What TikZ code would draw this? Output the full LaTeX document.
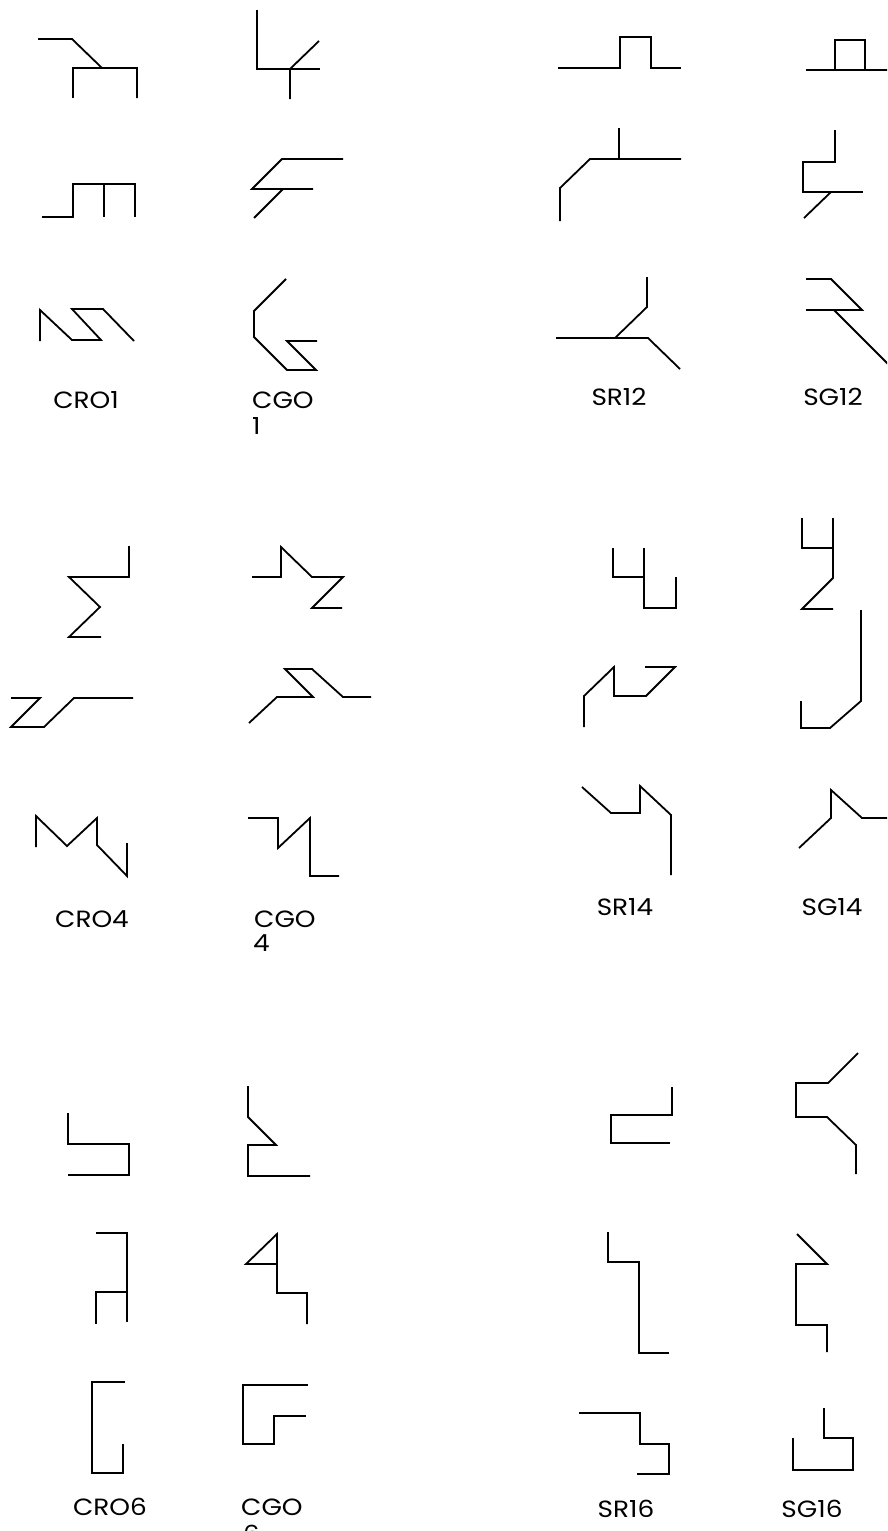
\documentclass[tikz,border=0pt]{standalone}
\usepackage{fontspec}
\setmainfont{Poppins}
\newfontfamily\lblfont{Poppins}[FakeStretch=1.12]
\begin{document}
\begin{tikzpicture}[x=1pt,y=-1pt,
  glyph/.style={line width=1.8pt, line join=miter, line cap=butt},
  lbl/.style={font=\lblfont\fontsize{23.5}{27}\selectfont, inner sep=0pt}]
\useasboundingbox (0,0) rectangle (887,1531);
\clip (0,0) rectangle (887,1531);
% ---------- block 1 ----------
\draw[glyph] (38,39)--(72,39)--(102,68)--(137,68)--(137,98);
\draw[glyph] (73,98)--(73,68)--(102,68);
\draw[glyph] (257,10)--(257,69)--(320,69);
\draw[glyph] (290,99)--(290,69)--(319,41);
\draw[glyph] (42,217)--(73,217)--(73,184)--(135,184)--(135,217);
\draw[glyph] (104,184)--(104,217);
\draw[glyph] (343,159)--(282,159)--(252,189)--(313,189);
\draw[glyph] (283,189)--(254,218);
\draw[glyph] (40,341)--(40,310)--(72,340)--(101,340)--(72,309)--(103,309)--(134,341);
\draw[glyph] (286,279)--(254,311)--(254,337)--(287,370)--(316,370)--(287,341)--(317,341);
\draw[glyph] (558,68)--(620,68)--(620,37)--(651,37)--(651,68)--(681,68);
\draw[glyph] (806,70)--(890,70);
\draw[glyph] (835,70)--(835,40)--(865,40)--(865,70);
\draw[glyph] (619,128)--(619,159);
\draw[glyph] (681,159)--(590,159)--(560,188)--(560,221);
\draw[glyph] (835,130)--(835,162)--(803,162)--(803,192)--(863,192);
\draw[glyph] (831,192)--(804,218);
\draw[glyph] (647,277)--(647,307)--(615,338);
\draw[glyph] (556,338)--(648,338)--(680,369);
\draw[glyph] (806,279)--(831,279)--(862,310)--(806,310);
\draw[glyph] (834,310)--(890,366);
\node[lbl, anchor=base] (cro1) at (86,408) {CRO1};
\node[lbl, anchor=base west] (cgo1) at (252,408) {CGO};
\node[lbl, anchor=base west] (cgo1n) at (252,434) {1};
\node[lbl, anchor=base] (sr12) at (619,405) {SR12};
\node[lbl, anchor=base] (sg12) at (833,405) {SG12};
% ---------- block 2 ----------
\draw[glyph] (129,546)--(129,577)--(69,577)--(100,607)--(69,637)--(101,637);
\draw[glyph] (252,577)--(281,577)--(281,547)--(312,577)--(343,577)--(312,608)--(342,608);
\draw[glyph] (11,698)--(40,698)--(11,727)--(44,727)--(74,698)--(133,698);
\draw[glyph] (249,723)--(277,697)--(313,697)--(285,669)--(312,669)--(343,697)--(371,697);
\draw[glyph] (36,847)--(36,816)--(67,846)--(97,818)--(97,845)--(127,876)--(127,843);
\draw[glyph] (248,818)--(278,818)--(278,848)--(310,818)--(310,876)--(339,876);
\draw[glyph] (613,548)--(613,577)--(644,577);
\draw[glyph] (644,548)--(644,608)--(676,608)--(676,577);
\draw[glyph] (802,518)--(802,548)--(833,548);
\draw[glyph] (833,518)--(833,578)--(802,609)--(833,609);
\draw[glyph] (584,727)--(584,696)--(614,667)--(614,696)--(646,696)--(675,667)--(645,667);
\draw[glyph] (861,610)--(861,701)--(830,728)--(801,728)--(801,701);
\draw[glyph] (582,787)--(611,813)--(640,813)--(640,786)--(671,815)--(671,875);
\draw[glyph] (799,848)--(831,818)--(831,790)--(862,818)--(890,818);
\node[lbl, anchor=base] (cro4) at (92,927) {CRO4};
\node[lbl, anchor=base west] (cgo4) at (254,927) {CGO};
\node[lbl, anchor=base west] (cgo4n) at (253,951) {4};
\node[lbl, anchor=base] (sr14) at (625,915) {SR14};
\node[lbl, anchor=base] (sg14) at (832,915) {SG14};
% ---------- block 3 ----------
\draw[glyph] (68,1113)--(68,1144)--(129,1144)--(129,1175)--(68,1175);
\draw[glyph] (248,1086)--(248,1117)--(276,1145)--(248,1145)--(248,1176)--(310,1176);
\draw[glyph] (96,1233)--(127,1233)--(127,1322);
\draw[glyph] (96,1324)--(96,1292)--(127,1292);
\draw[glyph] (277,1264)--(246,1264)--(277,1234)--(277,1293)--(307,1293)--(307,1324);
\draw[glyph] (125,1382)--(92,1382)--(92,1473)--(123,1473)--(123,1444);
\draw[glyph] (308,1385)--(243,1385)--(243,1444)--(274,1444)--(274,1416)--(306,1416);
\draw[glyph] (672,1087)--(672,1115)--(611,1115)--(611,1143)--(670,1143);
\draw[glyph] (858,1053)--(828,1083)--(796,1083)--(796,1117)--(827,1117)--(856,1145)--(856,1174);
\draw[glyph] (608,1232)--(608,1262)--(639,1262)--(639,1353)--(669,1353);
\draw[glyph] (797,1234)--(827,1264)--(796,1264)--(796,1325)--(827,1325)--(827,1352);
\draw[glyph] (579,1413)--(640,1413)--(640,1444)--(669,1444)--(669,1474)--(637,1474);
\draw[glyph] (824,1408)--(824,1438)--(853,1438)--(853,1470)--(793,1470)--(793,1438);
\node[lbl, anchor=base] (cro6) at (110,1515) {CRO6};
\node[lbl, anchor=base west] (cgo6) at (241,1515) {CGO};
\node[lbl, anchor=base west] (cgo6n) at (243,1542) {6};
\node[lbl, anchor=base] (sr16) at (626,1517) {SR16};
\node[lbl, anchor=base] (sg16) at (812,1517) {SG16};
\end{tikzpicture}
\end{document}
